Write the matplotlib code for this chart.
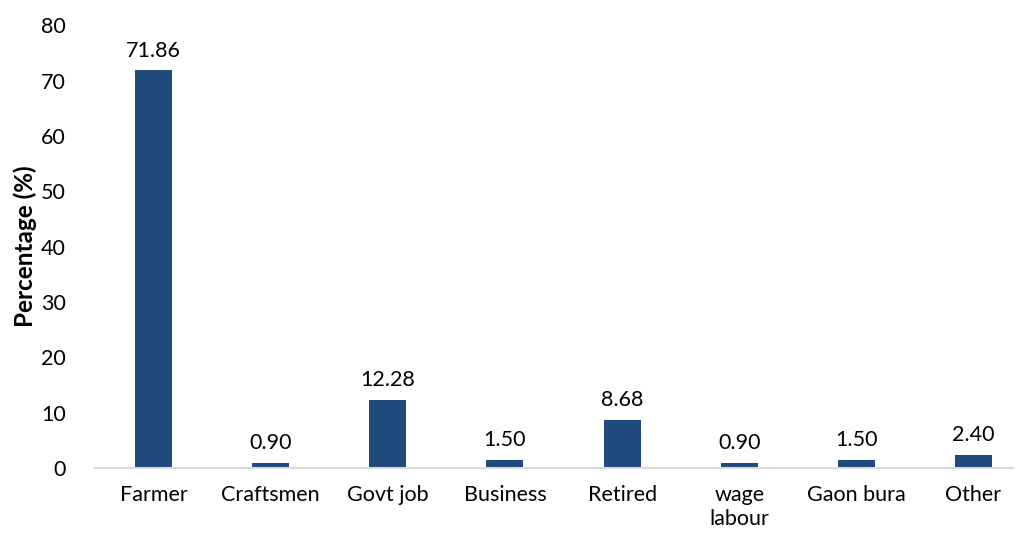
import matplotlib.pyplot as plt
import numpy as np

plt.rcParams['font.family'] = ['Lato', 'DejaVu Sans']

categories = ['Farmer', 'Craftsmen', 'Govt job', 'Business', 'Retired',
              'wage\nlabour', 'Gaon bura', 'Other']
percent = [71.86, 0.90, 12.28, 1.50, 8.68, 0.90, 1.50, 2.40]

bar_color = '#204A7C'
fs = 15.5

fig = plt.figure(figsize=(10.17, 5.36), dpi=100)
ax = fig.add_axes([0.0934, 0.127, 0.903, 0.826])

x = np.arange(len(categories))
bars = ax.bar(x, percent, width=0.316, color=bar_color)

# value labels above each bar
for xi, v in zip(x, percent):
    ax.annotate('{:.2f}'.format(v), (xi, v), xytext=(0, 7),
                textcoords='offset points', ha='center', va='bottom',
                fontsize=fs, color='#000000')

ax.set_xlim(-0.5, 7.34)
ax.set_ylim(0, 80)
ax.set_yticks(np.arange(0, 81, 10))
ax.set_xticks(x)
ax.set_xticklabels(categories, linespacing=1.25)
ax.tick_params(axis='both', length=0, labelsize=fs)
ax.tick_params(axis='x', pad=12)
ax.tick_params(axis='y', pad=21)

for side in ['top', 'right', 'left']:
    ax.spines[side].set_visible(False)
ax.spines['bottom'].set_color('#D9D9D9')
ax.spines['bottom'].set_linewidth(1.5)

ax.set_ylabel('Percentage (%)', fontsize=17.5, fontweight='bold', labelpad=3)

fig.savefig('out.png', dpi=100)
